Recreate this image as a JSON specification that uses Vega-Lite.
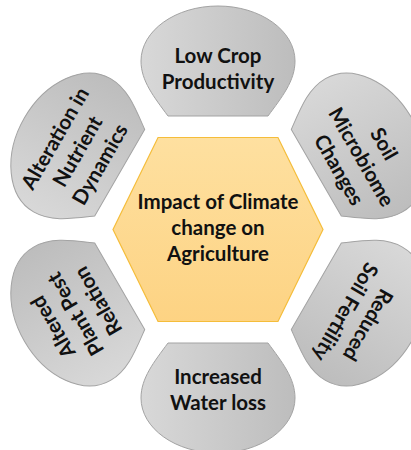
{
  "$schema": "https://vega.github.io/schema/vega-lite/v6.json",
  "width": 411,
  "height": 450,
  "padding": 0,
  "autosize": "none",
  "background": "white",
  "config": {"view": {"stroke": null}},
  "datasets": {
    "petals": [
      {"topic": "Low Crop Productivity", "x": 0, "y": 168.5, "angle": 0, "side": "outer"},
      {"topic": "Soil Microbiome Changes", "x": 145.93, "y": 84.25, "angle": 60, "side": "outer"},
      {"topic": "Reduced Soil Fertility", "x": 145.93, "y": -84.25, "angle": 120, "side": "outer"},
      {"topic": "Increased Water loss", "x": 0, "y": -168.5, "angle": 0, "side": "below"},
      {"topic": "Altered Plant Pest Relation", "x": -145.93, "y": -84.25, "angle": 240, "side": "outer"},
      {"topic": "Alteration in Nutrient Dynamics", "x": -145.93, "y": 84.25, "angle": 300, "side": "outer"}
    ],
    "hub": [
      {"topic": "Impact of Climate change on Agriculture", "x": 0, "y": 0}
    ],
    "labels": [
      {"label": "Impact of Climate\nchange on\nAgriculture", "x": 0, "y": 26.5, "angle": 0},
      {"label": "Low Crop\nProductivity", "x": 0, "y": 172.5, "angle": 0},
      {"label": "Soil\nMicrobiome\nChanges", "x": 165, "y": 85, "angle": 60},
      {"label": "Reduced\nSoil Fertility", "x": 149, "y": -95, "angle": 120},
      {"label": "Increased\nWater loss", "x": 0, "y": -148.5, "angle": 0},
      {"label": "Altered\nPlant Pest\nRelation", "x": -164, "y": -97, "angle": 240},
      {"label": "Alteration in\nNutrient\nDynamics", "x": -162, "y": 90.5, "angle": 300}
    ]
  },
  "encoding": {
    "x": {"field": "x", "type": "quantitative", "scale": {"domain": [-218, 193], "nice": false, "zero": false}, "axis": null},
    "y": {"field": "y", "type": "quantitative", "scale": {"domain": [-220.5, 229.5], "nice": false, "zero": false}, "axis": null}
  },
  "layer": [
    {
      "data": {"name": "petals"},
      "mark": {
        "type": "point",
        "filled": true,
        "opacity": 1,
        "fillOpacity": 1,
        "fill": {"gradient": "linear", "x1": 0, "y1": 0, "x2": 1, "y2": 0, "stops": [{"offset": 0, "color": "#d8d8d8"}, {"offset": 1, "color": "#bdbdbd"}]},
        "stroke": "#a3a3a3",
        "strokeWidth": 1
      },
      "encoding": {
        "size": {"value": 25600},
        "angle": {"field": "angle", "type": "quantitative", "scale": null},
        "shape": {
          "field": "side",
          "type": "nominal",
          "legend": null,
          "scale": {
            "domain": ["outer", "below"],
            "range": [
              "M -0.625 0.6875 L 0.625 0.6875 C 0.8 0.45 0.9625 0.25 0.9625 0 C 0.9625 -0.38 0.53 -0.6875 0 -0.6875 C -0.53 -0.6875 -0.9625 -0.38 -0.9625 0 C -0.9625 0.25 -0.8 0.45 -0.625 0.6875 Z",
              "M -0.625 -0.6875 L 0.625 -0.6875 C 0.8 -0.45 0.9625 -0.25 0.9625 0 C 0.9625 0.38 0.53 0.6875 0 0.6875 C -0.53 0.6875 -0.9625 0.38 -0.9625 0 C -0.9625 -0.25 -0.8 -0.45 -0.625 -0.6875 Z"
            ]
          }
        }
      }
    },
    {
      "data": {"name": "hub"},
      "mark": {
        "type": "point",
        "filled": true,
        "opacity": 1,
        "fillOpacity": 1,
        "shape": "M -1 0 L -0.571 -0.876 L 0.571 -0.876 L 1 0 L 0.571 0.876 L -0.571 0.876 Z",
        "fill": {"gradient": "linear", "x1": 0, "y1": 0, "x2": 0, "y2": 1, "stops": [{"offset": 0, "color": "#fee0a0"}, {"offset": 1, "color": "#fdd383"}]},
        "stroke": "#f5bd3a",
        "strokeWidth": 1.2
      },
      "encoding": {"size": {"value": 44100}}
    },
    {
      "data": {"name": "labels"},
      "mark": {
        "type": "text",
        "font": "Lato",
        "fontWeight": "bold",
        "fontSize": 20.5,
        "lineHeight": 26,
        "lineBreak": "\n",
        "align": "center",
        "baseline": "middle",
        "color": "#111111"
      },
      "encoding": {
        "text": {"field": "label", "type": "nominal"},
        "angle": {"field": "angle", "type": "quantitative", "scale": null}
      }
    }
  ]
}
